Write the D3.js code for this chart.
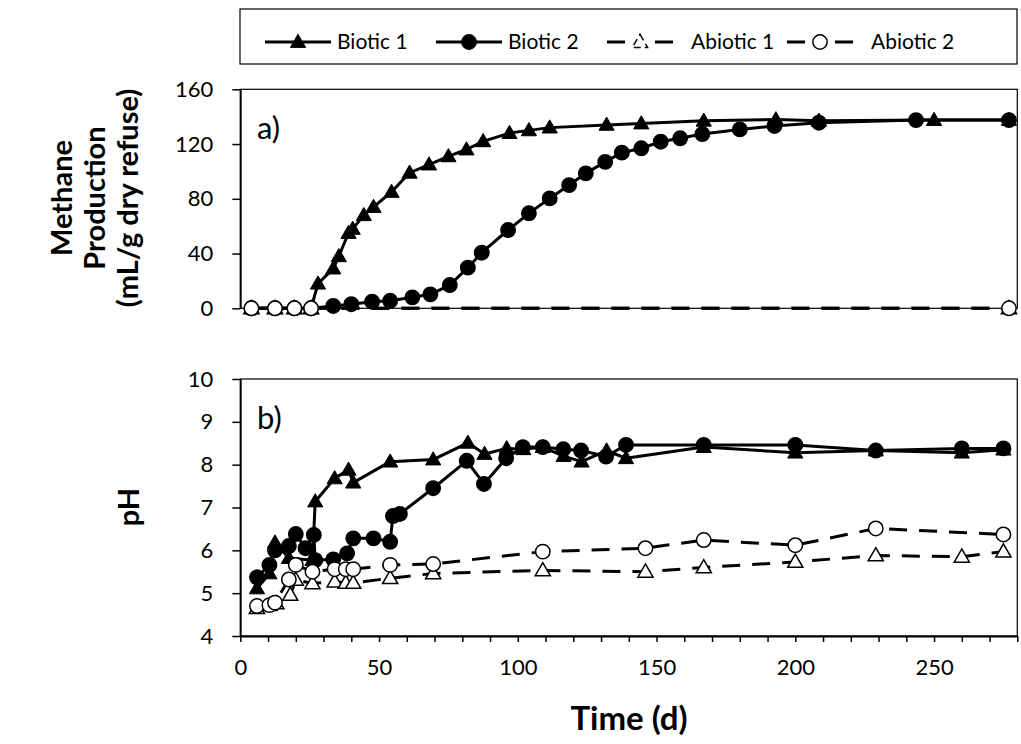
<!DOCTYPE html>
<html><head><meta charset="utf-8">
<script src="https://cdn.jsdelivr.net/npm/d3@7"></script>
<style>body{margin:0;background:#fff}svg{display:block}</style>
</head><body>
<svg id="chart" width="1021" height="744"></svg>
<script>
// ---- Panel a: cumulative methane production (mL/g dry refuse) ----
const methBiotic1Days = [4, 12.5, 19.5, 25.5, 28, 33.5, 35.5, 39, 40.5, 44.5, 48, 54.5, 61, 68, 75, 81.5, 87.5, 97, 104, 111.5, 132, 144.5, 167, 193, 208.5, 250, 277];
const methBiotic1 = [0, 0, 0, 0, 18, 29, 38, 55, 58, 68, 74, 85, 99, 105, 111, 116, 122, 128, 130, 132, 134, 135, 137, 138, 137, 137.5, 137.5];
const methBiotic2Days = [4, 12.5, 19.5, 25.5, 33.5, 40, 47.5, 54, 62, 68.5, 75.5, 82, 87, 96.5, 104, 111.5, 118.5, 124.5, 131.5, 137.5, 144.5, 151.5, 158.5, 166.5, 180, 192.5, 208.5, 243.5, 277];
const methBiotic2 = [0, 0, 0, 0, 1.7, 3, 4.8, 5.5, 8, 10.2, 17, 29.7, 40.6, 57.2, 69.4, 80.3, 90, 98.6, 107, 113.7, 116.9, 121.7, 124.2, 127.3, 130.7, 133.2, 135.6, 137.5, 137.5];
const methAbioticDays = [4, 12.5, 19.5, 25.5, 277];
const methAbiotic1 = [0, 0, 0, 0, 0];
const methAbiotic2 = [0, 0, 0, 0, 0];

// ---- Panel b: pH ----
const phBiotic1Days = [6, 10.5, 12.5, 17.5, 26, 27, 34, 39, 40.7, 54, 69.5, 82, 88, 96, 102, 109, 116.5, 123, 132, 139, 167, 200, 229, 260, 275];
const phBiotic1 = [5.11, 5.46, 6.18, 5.82, 5.77, 7.14, 7.68, 7.88, 7.58, 8.07, 8.12, 8.51, 8.25, 8.38, 8.36, 8.41, 8.2, 8.07, 8.33, 8.15, 8.41, 8.28, 8.33, 8.28, 8.35];
const phBiotic2Days = [6, 10.5, 12.5, 17.5, 20, 23.5, 26.5, 27, 33.5, 38.5, 40.7, 48, 54, 55, 57.5, 69.5, 81.6, 87.8, 95.8, 101.8, 109, 116.4, 122.8, 131.8, 139, 167, 200, 229, 260, 275];
const phBiotic2 = [5.37, 5.66, 6.0, 6.1, 6.38, 6.05, 6.36, 5.77, 5.79, 5.93, 6.28, 6.28, 6.2, 6.8, 6.85, 7.45, 8.09, 7.55, 8.15, 8.41, 8.41, 8.36, 8.33, 8.19, 8.46, 8.46, 8.46, 8.33, 8.38, 8.38];
const phAbiotic1Days = [6, 10.5, 13, 18, 20, 26, 34, 38, 40.7, 54, 69.5, 109, 146, 167, 200, 229, 260, 275];
const phAbiotic1 = [4.65, 4.72, 4.76, 4.96, 5.31, 5.23, 5.27, 5.24, 5.24, 5.35, 5.46, 5.53, 5.5, 5.6, 5.73, 5.88, 5.85, 5.97];
const phAbiotic2Days = [6, 10.5, 12.5, 17.5, 20, 26, 34, 38, 40.7, 54, 69.5, 109, 146, 167, 200, 229, 275];
const phAbiotic2 = [4.70, 4.72, 4.78, 5.32, 5.66, 5.5, 5.56, 5.56, 5.56, 5.66, 5.68, 5.97, 6.05, 6.24, 6.12, 6.51, 6.37];

// ---- Axis ticks and labels ----
const timeTicks = [0, 50, 100, 150, 200, 250];
const methaneTicks = [0, 40, 80, 120, 160];
const phTicks = [4, 5, 6, 7, 8, 9, 10];
const seriesNames = ["Biotic 1", "Biotic 2", "Abiotic 1", "Abiotic 2"];

const FONT = "Lato, 'Open Sans', sans-serif";
const svg = d3.select("#chart");

const x = d3.scaleLinear().domain([0, 280]).range([240.3, 1017.3]);
const yA = d3.scaleLinear().domain([0, 160]).range([308.3, 89.3]);
const yB = d3.scaleLinear().domain([4, 10]).range([636, 379]);

const zip = (xs, ys) => xs.map((d, i) => [d, ys[i]]);

// series styling: line dash + marker kind
const styles = [
  { dash: null, marker: "tri", fill: "#000" },
  { dash: null, marker: "circ", fill: "#000" },
  { dash: "18,12", marker: "tri", fill: "#fff" },
  { dash: "18,12", marker: "circ", fill: "#fff" }
];

const triPath = d3.symbol().type(d3.symbolTriangle).size(100)();

function drawMarker(g, cx, cy, st, legendDash) {
  if (st.marker === "tri") {
    g.append("path").attr("d", triPath)
      .attr("transform", `translate(${cx},${cy + 1})`)
      .attr("fill", st.fill).attr("stroke", "#000")
      .attr("stroke-width", st.fill === "#000" ? 1 : 1.5)
      .attr("stroke-dasharray", legendDash || null);
  } else {
    g.append("circle").attr("cx", cx).attr("cy", cy).attr("r", 7.2)
      .attr("fill", st.fill).attr("stroke", "#000").attr("stroke-width", 1.5);
  }
}

function panel(y, series, ticks) {
  const g = svg.append("g");
  const [x0, x1] = x.range();
  const [yb, yt] = y.range();
  // plot frame
  g.append("rect").attr("x", x0).attr("y", yt).attr("width", x1 - x0).attr("height", yb - yt)
    .attr("fill", "none").attr("stroke", "#000").attr("stroke-width", 1.2);
  // y axis
  const ax = d3.axisLeft(y).tickValues(ticks).tickSize(8).tickSizeOuter(0).tickPadding(19)
    .tickFormat(d3.format("d"));
  const ga = g.append("g").attr("transform", `translate(${x0},0)`).call(ax);
  ga.select(".domain").attr("stroke-width", 1.8);
  ga.selectAll(".tick line").attr("stroke-width", 1.5);
  ga.selectAll("text").attr("font-family", FONT).attr("font-size", 22).attr("fill", "#000");

  const line = d3.line().x(d => x(d[0])).y(d => y(d[1]));
  series.forEach((pts, i) => {
    const st = styles[i];
    const sg = g.append("g");
    sg.append("path").attr("d", line(pts)).attr("fill", "none").attr("stroke", "#000")
      .attr("stroke-width", 3).attr("stroke-linejoin", "round")
      .attr("stroke-dasharray", st.dash);
    pts.forEach(p => drawMarker(sg, x(p[0]), y(p[1]), st));
  });
  return g;
}

// Panel a
const gA = panel(yA, [
  zip(methBiotic1Days, methBiotic1),
  zip(methBiotic2Days, methBiotic2),
  zip(methAbioticDays, methAbiotic1),
  zip(methAbioticDays, methAbiotic2)
], methaneTicks);
gA.append("text").attr("x", 257).attr("y", 139).text("a)")
  .attr("font-family", FONT).attr("font-size", 31);

// Panel b
const gB = panel(yB, [
  zip(phBiotic1Days, phBiotic1),
  zip(phBiotic2Days, phBiotic2),
  zip(phAbiotic1Days, phAbiotic1),
  zip(phAbiotic2Days, phAbiotic2)
], phTicks);
gB.append("text").attr("x", 257).attr("y", 429).text("b)")
  .attr("font-family", FONT).attr("font-size", 31);

// Time axis under panel b: ticks every 10 days, labels every 50
const xAxis = d3.axisBottom(x).tickValues(d3.range(0, 290, 10)).tickSize(6).tickSizeOuter(0)
  .tickFormat(d => timeTicks.includes(d) ? d : "").tickPadding(17);
const gx = svg.append("g").attr("transform", `translate(0,${yB(4)})`).call(xAxis);
gx.select(".domain").attr("stroke-width", 1.8);
gx.selectAll(".tick line").attr("stroke-width", 1.5);
gx.selectAll("text").attr("font-family", FONT).attr("font-size", 22).attr("fill", "#000");

// Axis titles
const titleA = svg.append("text").attr("transform", "translate(105,198) rotate(-90)")
  .attr("text-anchor", "middle").attr("font-family", FONT).attr("font-weight", "bold").attr("font-size", 29);
titleA.append("tspan").attr("x", 0).attr("dy", "-1.14em").text("Methane");
titleA.append("tspan").attr("x", 0).attr("dy", "1.14em").text("Production");
titleA.append("tspan").attr("x", 0).attr("dy", "1.14em").text("(mL/g dry refuse)");

svg.append("text").attr("transform", "translate(139,507) rotate(-90)")
  .attr("text-anchor", "middle").attr("font-family", FONT).attr("font-weight", "bold")
  .attr("font-size", 29).text("pH");

svg.append("text").attr("x", 629).attr("y", 730).attr("text-anchor", "middle")
  .attr("font-family", FONT).attr("font-weight", "bold").attr("font-size", 33).text("Time (d)");

// Legend
const lg = svg.append("g");
lg.append("rect").attr("x", 240).attr("y", 9).attr("width", 777).attr("height", 55)
  .attr("fill", "#fff").attr("stroke", "#000").attr("stroke-width", 1.2);
const legendX = [265, 436, 607, 787];
const ly = 42;
seriesNames.forEach((name, i) => {
  const st = styles[i];
  const lx = legendX[i];
  const item = lg.append("g");
  if (st.dash) {
    item.append("line").attr("x1", lx).attr("x2", lx + 18).attr("y1", ly).attr("y2", ly)
      .attr("stroke", "#000").attr("stroke-width", 3);
    item.append("line").attr("x1", lx + 48).attr("x2", lx + 66).attr("y1", ly).attr("y2", ly)
      .attr("stroke", "#000").attr("stroke-width", 3);
    drawMarker(item, lx + 33, ly, st, st.marker === "tri" ? "7,4" : null);
  } else {
    item.append("line").attr("x1", lx).attr("x2", lx + 66).attr("y1", ly).attr("y2", ly)
      .attr("stroke", "#000").attr("stroke-width", 3);
    drawMarker(item, lx + 33, ly, st);
  }
  item.append("text").attr("x", lx + 72 + (st.dash ? 12 : 0)).attr("y", ly).attr("dy", "0.35em")
    .attr("font-family", FONT).attr("font-size", 21).text(name);
});
</script>
</body></html>
